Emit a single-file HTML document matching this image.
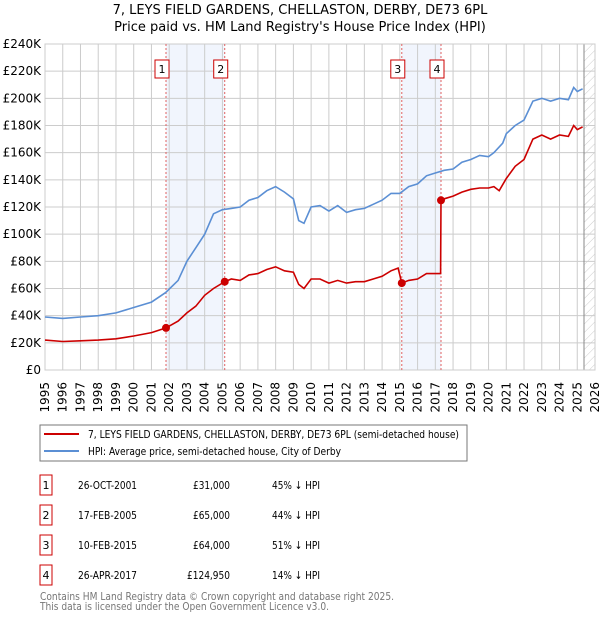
<!DOCTYPE html>
<html><head><meta charset="utf-8"><style>
body{margin:0;background:#fff;font-family:"DejaVu Sans","Liberation Sans",sans-serif;}
svg text{font-family:"DejaVu Sans","Liberation Sans",sans-serif;}
</style></head><body>
<svg id="c" width="600" height="620" xmlns="http://www.w3.org/2000/svg">
<defs><pattern id="hatch" width="6" height="6" patternUnits="userSpaceOnUse" patternTransform="rotate(45)"><line x1="0" y1="0" x2="0" y2="6" stroke="#ccc" stroke-width="1"/></pattern></defs>
<text x="300" y="14" text-anchor="middle" font-size="13">7, LEYS FIELD GARDENS, CHELLASTON, DERBY, DE73 6PL</text>
<text x="300" y="31" text-anchor="middle" font-size="13">Price paid vs. HM Land Registry's House Price Index (HPI)</text>
<g id="plot"></g>
<rect x="40" y="425" width="427" height="36" fill="#fff" stroke="#777"/>
<line x1="44" y1="434" x2="79" y2="434" stroke="#cc0000" stroke-width="2"/>
<text x="88" y="438" font-size="11" textLength="371" lengthAdjust="spacingAndGlyphs">7, LEYS FIELD GARDENS, CHELLASTON, DERBY, DE73 6PL (semi-detached house)</text>
<line x1="44" y1="451" x2="79" y2="451" stroke="#5b8fd4" stroke-width="2"/>
<text x="88" y="455" font-size="11" textLength="253" lengthAdjust="spacingAndGlyphs">HPI: Average price, semi-detached house, City of Derby</text>
<g id="table" font-size="11"></g>
<text x="40" y="600" font-size="11" fill="#777" textLength="354" lengthAdjust="spacingAndGlyphs">Contains HM Land Registry data © Crown copyright and database right 2025.</text>
<text x="40" y="610" font-size="11" fill="#777" textLength="289" lengthAdjust="spacingAndGlyphs">This data is licensed under the Open Government Licence v3.0.</text>
</svg>
<script>
const yTicks=[0,20,40,60,80,100,120,140,160,180,200,220,240];
const years=[1995,1996,1997,1998,1999,2000,2001,2002,2003,2004,2005,2006,2007,2008,2009,2010,2011,2012,2013,2014,2015,2016,2017,2018,2019,2020,2021,2022,2023,2024,2025,2026];
const hpiT=[1995,1996,1997,1998,1999,2000,2001,2001.8,2002.5,2003,2003.5,2004,2004.5,2005,2005.5,2006,2006.5,2007,2007.5,2008,2008.5,2009,2009.3,2009.6,2010,2010.5,2011,2011.5,2012,2012.5,2013,2013.5,2014,2014.5,2015,2015.5,2016,2016.5,2017,2017.5,2018,2018.5,2019,2019.5,2020,2020.3,2020.8,2021,2021.5,2022,2022.5,2023,2023.5,2024,2024.5,2024.8,2025,2025.3];
const hpiV=[39,38,39,40,42,46,50,57,66,80,90,100,115,118,119,120,125,127,132,135,131,126,110,108,120,121,117,121,116,118,119,122,125,130,130,135,137,143,145,147,148,153,155,158,157,160,167,174,180,184,198,200,198,200,199,208,205,207];
const redT=[1995,1996,1997,1998,1999,2000,2001,2001.82,2002.5,2003,2003.5,2004,2004.5,2005.13,2005.5,2006,2006.5,2007,2007.5,2008,2008.5,2009,2009.3,2009.6,2010,2010.5,2011,2011.5,2012,2012.5,2013,2013.5,2014,2014.5,2014.9,2015.11,2015.5,2016,2016.5,2017.3,2017.32,2017.5,2018,2018.5,2019,2019.5,2020,2020.3,2020.6,2021,2021.5,2022,2022.5,2023,2023.5,2024,2024.5,2024.8,2025,2025.3];
const redV=[22,21,21.5,22,23,25,27.5,31,36,42,47,55,60,65,67,66,70,71,74,76,73,72,63,60,67,67,64,66,64,65,65,67,69,73,75,64,66,67,71,71,124.95,126,128,131,133,134,134,135,132,141,150,155,170,173,170,173,172,180,177,179];
const saleT=[2001.82,2005.13,2015.11,2017.32];
const saleV=[31,65,64,124.95];
const saleLabels=["1","2","3","4"];
const saleDates=["26-OCT-2001","17-FEB-2005","10-FEB-2015","26-APR-2017"];
const salePrices=["£31,000","£65,000","£64,000","£124,950"];
const saleHpi=["45% ↓ HPI","44% ↓ HPI","51% ↓ HPI","14% ↓ HPI"];
const NS="http://www.w3.org/2000/svg";
const L=45,R=595,T=44,B=370;
const x=t=>L+(t-1995)/31*(R-L);
const y=v=>B-v/240*(B-T);
function mk(tag,at,parent,txt){const e=document.createElementNS(NS,tag);for(const k in at)e.setAttribute(k,at[k]);if(txt!==undefined)e.textContent=txt;parent.appendChild(e);return e;}
const g=document.getElementById('plot');
let e;
for(let i=0;i<saleT.length;i+=2){e=mk('rect',{x:x(saleT[i]),y:T,width:x(saleT[i+1])-x(saleT[i]),height:B-T,fill:'#eef3fc',opacity:0.8},g);

}
e=mk('rect',{x:x(2025.38),y:T,width:R-x(2025.38),height:B-T,fill:'url(#hatch)'},g);


yTicks.forEach(v=>{e=mk('line',{x1:L,x2:R,y1:y(v),y2:y(v),stroke:'#ccc'},g);


e=mk('text',{x:L-4,y:y(v)+4,'text-anchor':'end','font-size':12},g,'£'+(v?v+'K':'0'));

});
years.forEach(yr=>{e=mk('line',{x1:x(yr),x2:x(yr),y1:T,y2:B,stroke:'#ccc'},g);


e=mk('text',{x:0,y:0,'text-anchor':'end','font-size':12,transform:`translate(${x(yr)+4},382) rotate(-90)`},g,String(yr));

});
e=mk('line',{x1:x(2025.38),x2:x(2025.38),y1:T,y2:B,stroke:'#888'},g);


e=mk('rect',{x:L,y:T,width:R-L,height:B-T,fill:'none',stroke:'#ccc'},g);


saleT.forEach((t,i)=>{e=mk('line',{x1:x(t),x2:x(t),y1:T,y2:B,stroke:'#e06060','stroke-dasharray':'2,2'},g);


e=mk('rect',{x:x(t)-11,y:60,width:14,height:18,fill:'#fff',stroke:'#cc0000'},g);


e=mk('text',{x:x(t)-4,y:73,'text-anchor':'middle','font-size':11},g,saleLabels[i]);

});
const pts=(ts,vs)=>ts.map((t,i)=>x(t).toFixed(1)+','+y(vs[i]).toFixed(1)).join(' ');
e=mk('polyline',{points:pts(hpiT,hpiV),fill:'none',stroke:'#5b8fd4','stroke-width':1.6},g);


e=mk('polyline',{points:pts(redT,redV),fill:'none',stroke:'#cc0000','stroke-width':1.6},g);


saleT.forEach((t,i)=>{e=mk('circle',{cx:x(t),cy:y(saleV[i]),r:4,fill:'#cc0000'},g);

});
const tb=document.getElementById('table');
const priceW=[37,37,37,43];
saleT.forEach((t,i)=>{const yy=483+i*30;
e=mk('rect',{x:40,y:yy-8,width:12,height:20,fill:'#fff',stroke:'#cc0000'},tb);


e=mk('text',{x:46,y:yy+6,'text-anchor':'middle'},tb,saleLabels[i]);


e=mk('text',{x:78,y:yy+6,textLength:59,lengthAdjust:'spacingAndGlyphs'},tb,saleDates[i]);


e=mk('text',{x:230-priceW[i],y:yy+6,textLength:priceW[i],lengthAdjust:'spacingAndGlyphs'},tb,salePrices[i]);


e=mk('text',{x:272,y:yy+6,textLength:48,lengthAdjust:'spacingAndGlyphs'},tb,saleHpi[i]);

});
</script>
</body></html>
